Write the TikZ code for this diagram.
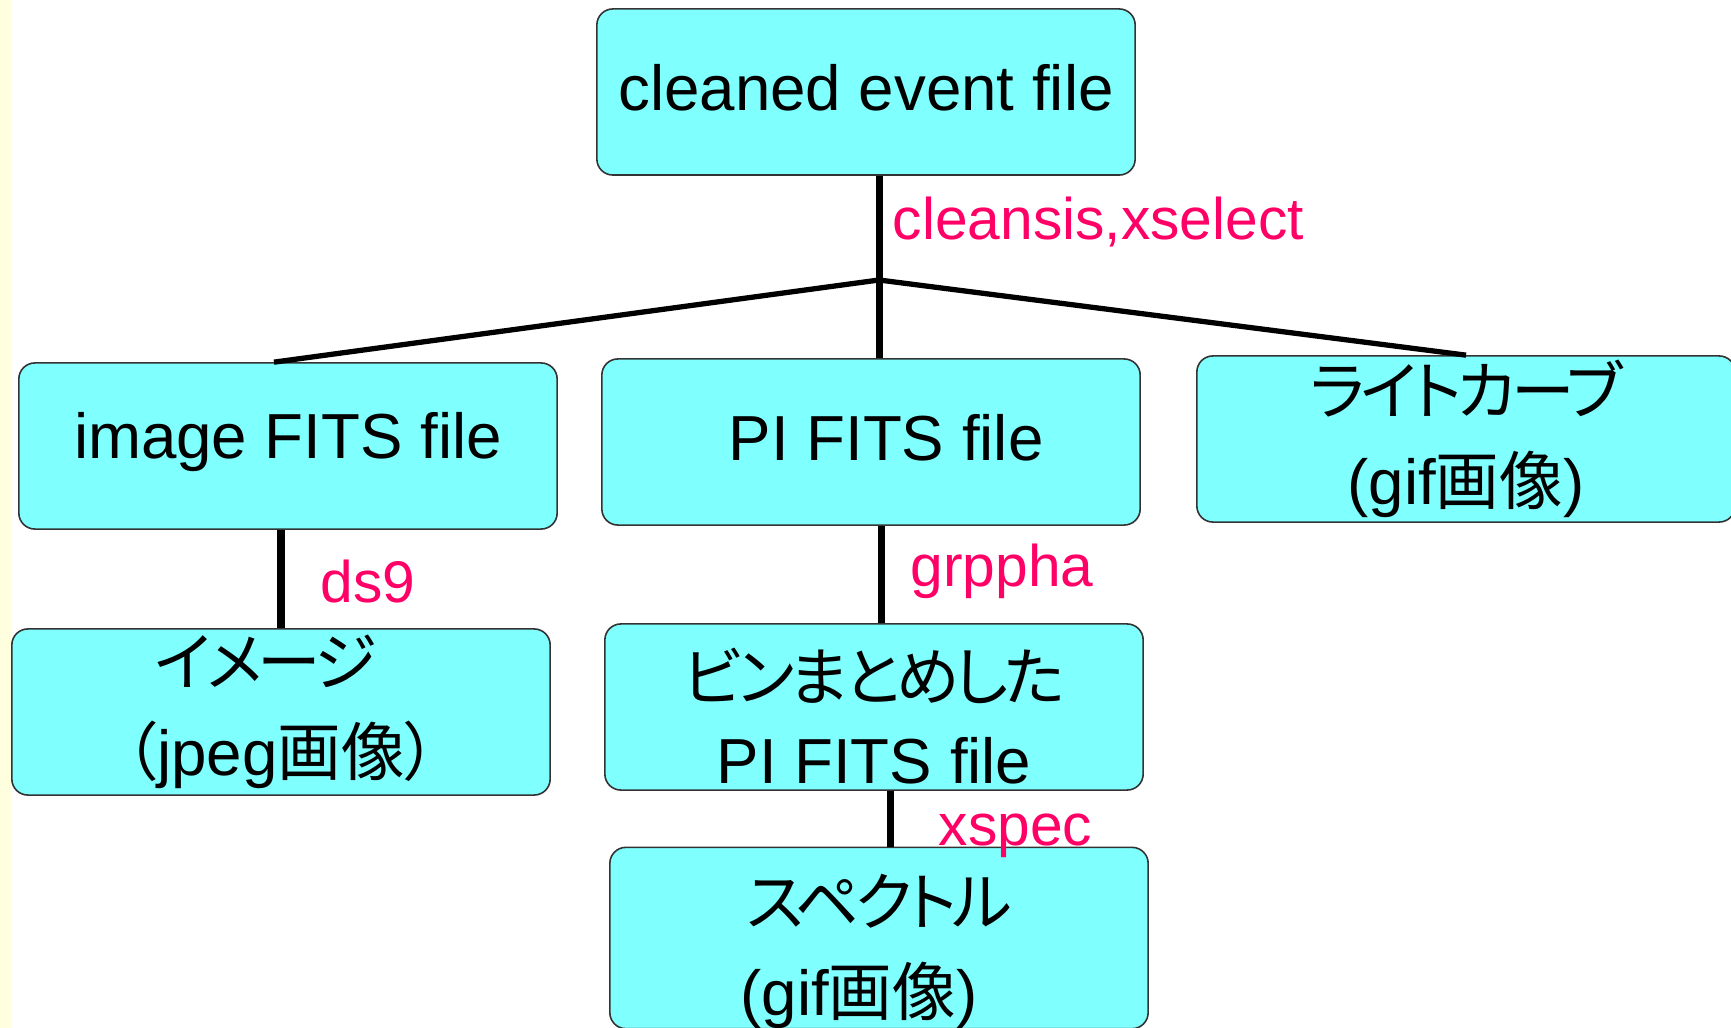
\documentclass[tikz,border=0pt]{standalone}
\usepackage{fontspec}
\setmainfont{Liberation Sans}
\newfontfamily\jpfont[RawFeature=+palt]{Noto Sans CJK JP}
\newfontfamily\kanafont[RawFeature=+palt, LetterSpace=-7]{Noto Sans CJK JP}
\usetikzlibrary{calc}
\definecolor{boxcyan}{HTML}{80FFFF}
\definecolor{toolred}{HTML}{FF0066}
\definecolor{edgegray}{HTML}{333333}
\definecolor{sideyellow}{HTML}{FFFFE0}

\begin{document}
\begin{tikzpicture}[x=0.01cm, y=-0.01cm,
    filebox/.style={draw=edgegray, line width=0.45pt, fill=boxcyan, rounded corners=0.16cm,
      minimum width=5.38cm, minimum height=1.66cm, inner sep=0pt, align=center,
      font=\fontsize{18.1pt}{25.6pt}\selectfont},
    oneline/.style={text height=0.46cm, text depth=0.1cm},
    tool/.style={anchor=base west, inner sep=0pt, text=toolred, font=\fontsize{16.7pt}{20pt}\selectfont},
    trunk/.style={line width=2pt},
    branch/.style={line width=1.5pt}]

  \useasboundingbox (0,0) rectangle (1731,1028);
  \fill[sideyellow] (0,0) rectangle (11,1028);

  % File boxes
  \node[filebox, oneline] (event) at (866,92) {cleaned event file};
  \node[filebox, oneline, text depth=0.22cm] (imgfits) at (288,446) {image FITS file};
  \node[filebox, oneline] (pifits) at (871,442) {\hspace*{0.3cm}PI FITS file};
  \node[filebox] (lcurve) at (1466,439) {{\kanafont ライトカーブ}\\(gif{\jpfont 画像})};
  \node[filebox] (image) at (281,712) {{\kanafont イメージ}\hspace*{0.3cm}\\{\jpfont （}jpeg{\jpfont 画像）}};
  \node[filebox] (binned) at (874,707) {\mbox{}\\[-0.2cm]{\kanafont ビンまとめした}\\[-0.07cm]PI FITS file};
  \node[filebox] (spectrum) at (879,938) {\mbox{}\\[-0.12cm]{\kanafont スペクトル}\\(gif{\jpfont 画像})\hspace*{0.4cm}};

  % Connectors
  \coordinate (fork) at (879,280);
  \coordinate (gdrop) at (881,0);
  \coordinate (sdrop) at (890,0);
  \draw[trunk] (event.south -| fork) -- (pifits.north -| fork);
  \draw[branch] ($(imgfits.north)+(-14,0)$) -- (fork) -- (lcurve.north);
  \draw[trunk] (imgfits.south -| image.north) -- (image.north);
  \draw[trunk] (pifits.south -| gdrop) -- (binned.north -| gdrop);
  \draw[trunk] (binned.south -| sdrop) -- (spectrum.north -| sdrop);

  % Tool names
  \node[tool] (cleansis) at (892,240) {cleansis,xselect};
  \node[tool] (ds9) at (320,602) {ds9};
  \node[tool] (grppha) at (910,587) {grppha};
  \node[tool] (xspec) at (938,845) {xspec};
\end{tikzpicture}
\end{document}
